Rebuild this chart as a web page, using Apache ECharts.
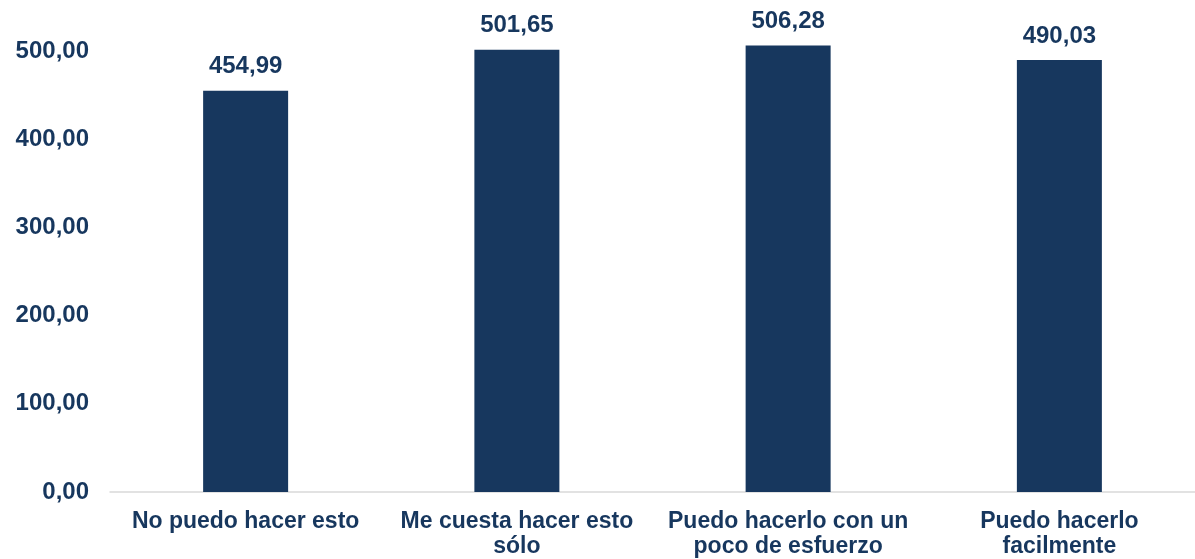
<!DOCTYPE html>
<html>
<head>
<meta charset="utf-8">
<script src="https://cdn.jsdelivr.net/npm/echarts@6/dist/echarts.min.js"></script>
<style>
html,body{margin:0;padding:0;background:#fff;}
#chart{width:1195px;height:559px;}
</style>
</head>
<body>
<div id="chart"></div>
<script>
const categories = ["No puedo hacer esto", "Me cuesta hacer esto\nsólo", "Puedo hacerlo con un\npoco de esfuerzo", "Puedo hacerlo\nfacilmente"];
const values = [454.99, 501.65, 506.28, 490.03];
const yTicks = [0, 100, 200, 300, 400, 500];

const navy = '#17375E';
const fmt = v => Number(v).toFixed(2).replace('.', ',');

const chart = echarts.init(document.getElementById('chart'));
chart.setOption({
  backgroundColor: '#fff',
  animation: false,
  grid: { left: 110, width: 1091, top: 7, bottom: 66.5, containLabel: false },
  xAxis: {
    type: 'category',
    data: categories,
    axisLine: { show: true, lineStyle: { color: '#d9d9d9', width: 1.5 } },
    axisTick: { show: false },
    axisLabel: {
      interval: 0,
      color: navy,
      fontFamily: 'Liberation Sans, Arial, sans-serif',
      fontWeight: 'bold',
      fontSize: 23,
      lineHeight: 25,
      margin: 17
    }
  },
  yAxis: {
    type: 'value',
    min: 0,
    max: 550,
    interval: 100,
    axisLine: { show: false },
    axisTick: { show: false },
    splitLine: { show: false },
    axisLabel: {
      color: navy,
      fontFamily: 'Liberation Sans, Arial, sans-serif',
      fontWeight: 'bold',
      fontSize: 24,
      margin: 21,
      formatter: v => yTicks.includes(v) ? fmt(v) : ''
    }
  },
  series: [{
    type: 'bar',
    data: values,
    barWidth: 85,
    itemStyle: { color: navy },
    label: {
      show: true,
      position: 'top',
      distance: 12,
      color: navy,
      fontFamily: 'Liberation Sans, Arial, sans-serif',
      fontWeight: 'bold',
      fontSize: 24,
      formatter: p => fmt(p.value)
    }
  }]
});
</script>
</body>
</html>
